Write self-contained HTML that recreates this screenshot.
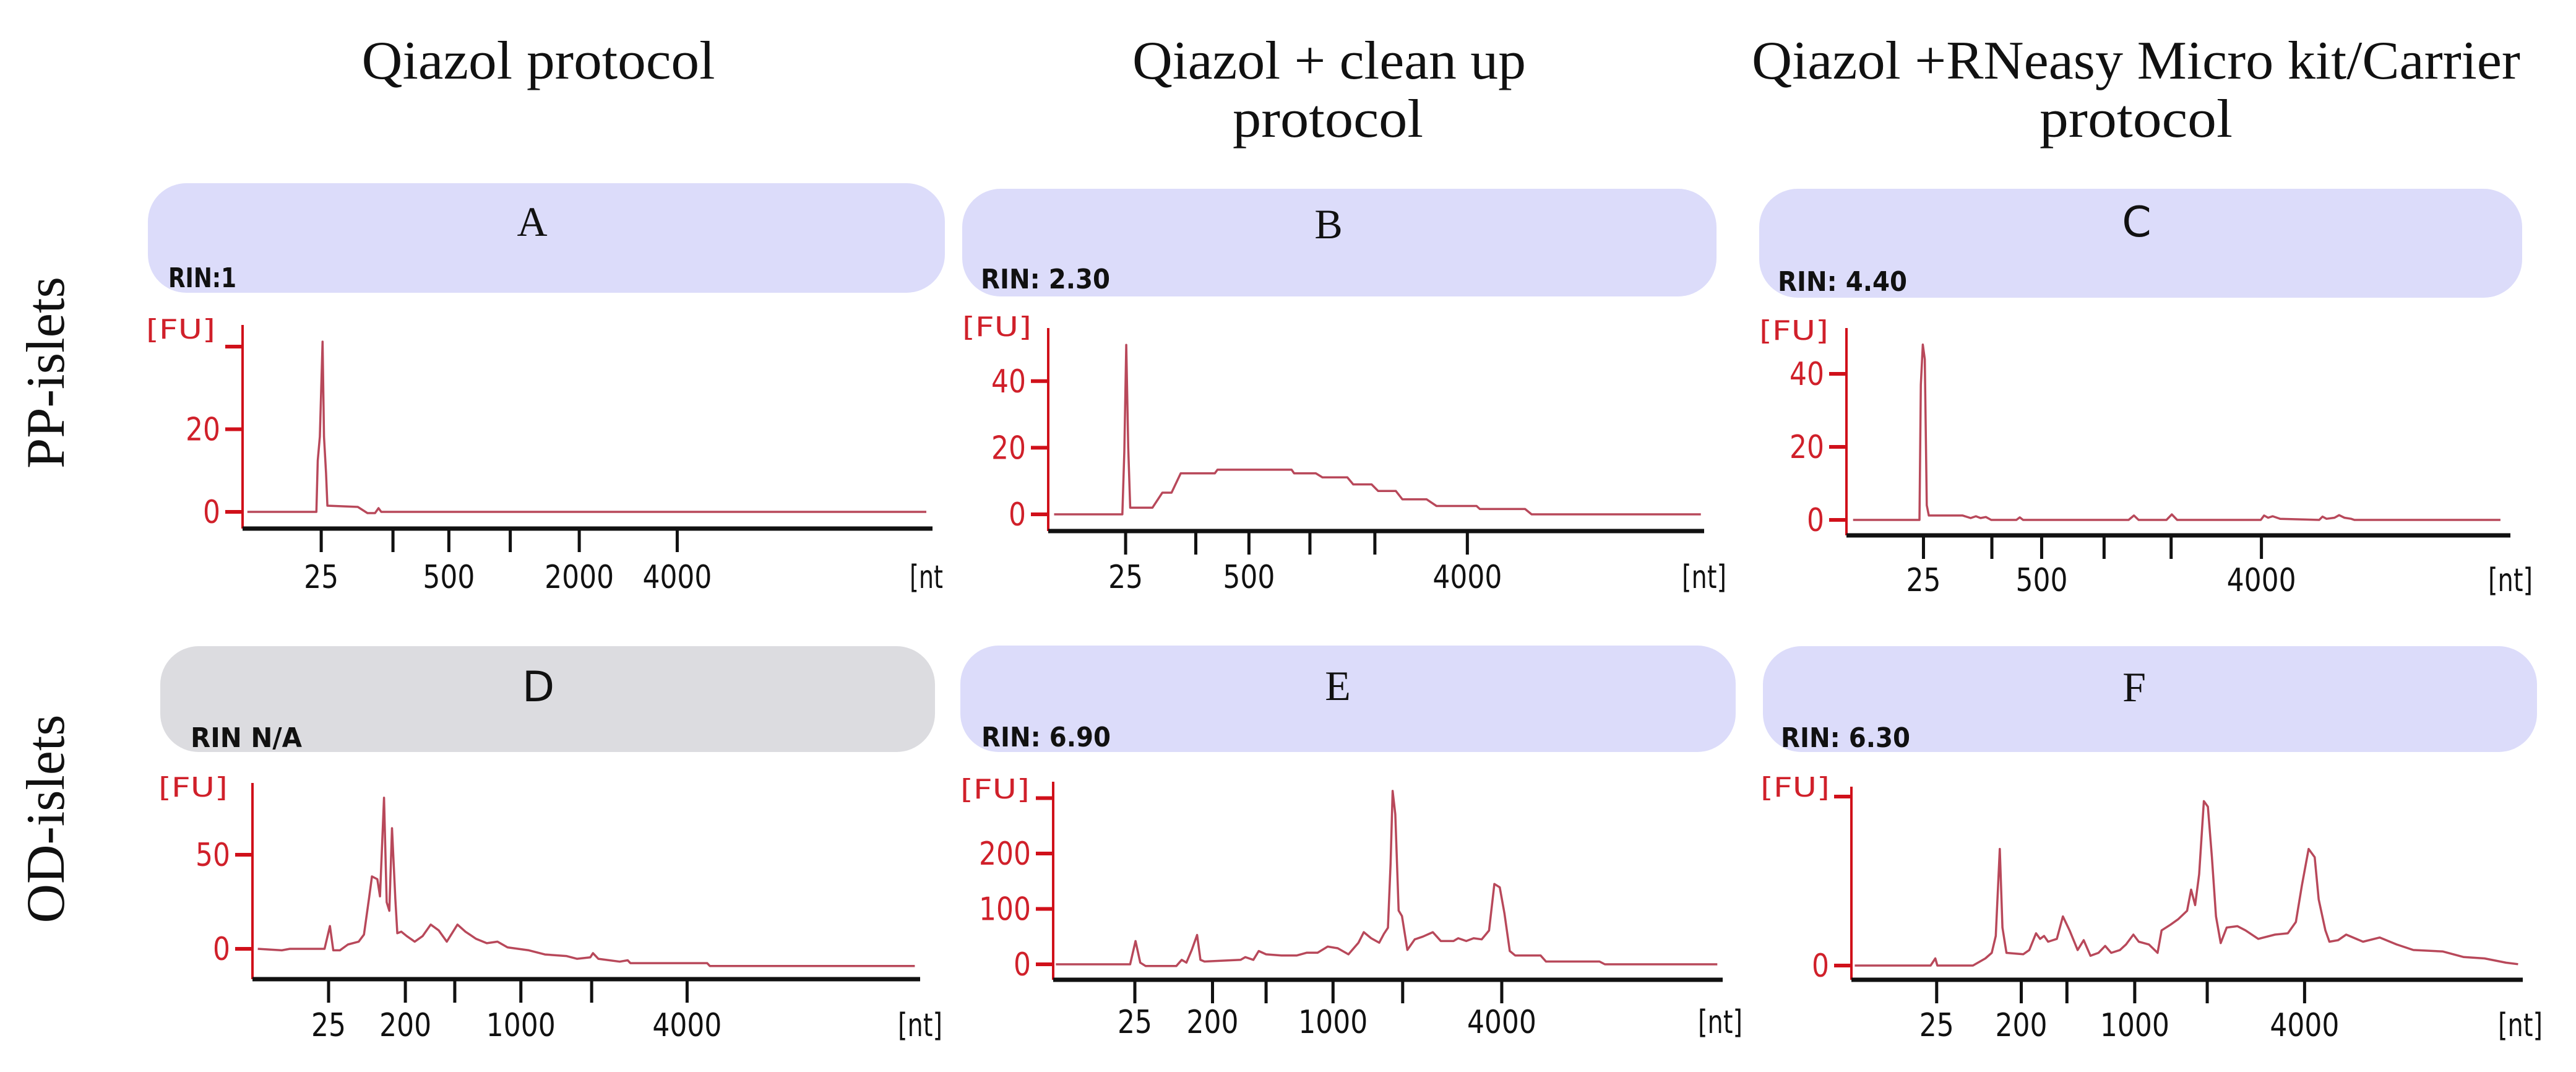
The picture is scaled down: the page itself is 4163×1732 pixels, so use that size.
<!DOCTYPE html>
<html><head><meta charset="utf-8"><style>
html,body{margin:0;padding:0;background:#fff;}
svg{display:block;}
</style></head><body>
<svg id="fig" width="4163" height="1732" viewBox="0 0 4163 1732" xmlns="http://www.w3.org/2000/svg">
<rect x="0" y="0" width="4163" height="1732" fill="#ffffff"/>
<g font-family="'Liberation Serif', serif" fill="#111" font-size="88">
<text x="870" y="127" text-anchor="middle" textLength="571" lengthAdjust="spacingAndGlyphs">Qiazol protocol</text>
<text x="2148" y="127" text-anchor="middle" textLength="636" lengthAdjust="spacingAndGlyphs">Qiazol + clean up</text>
<text x="2146" y="221" text-anchor="middle" textLength="308" lengthAdjust="spacingAndGlyphs">protocol</text>
<text x="3452" y="127" text-anchor="middle" textLength="1242" lengthAdjust="spacingAndGlyphs">Qiazol +RNeasy Micro kit/Carrier</text>
<text x="3452" y="221" text-anchor="middle" textLength="312" lengthAdjust="spacingAndGlyphs">protocol</text>
<text transform="translate(103,602) rotate(-90)" text-anchor="middle" textLength="310" lengthAdjust="spacingAndGlyphs">PP-islets</text>
<text transform="translate(103,1323) rotate(-90)" text-anchor="middle" textLength="337" lengthAdjust="spacingAndGlyphs">OD-islets</text>
</g>
<g id="panels"></g>
</svg>
<script>
// ---- Data (x = migration position 0..100 along axis, y = fluorescence units) ----
const aT  = [0.7,10.7,10.9,11.2,11.6,11.8,12.1,12.3,16.7,18.1,19.2,19.7,20.1,99.1];
const aFU = [0,0,12.4,18.2,41.2,18.2,9.4,1.5,1.2,-0.3,-0.3,0.9,0,0];
const aXTicks = [11.4,21.8,29.9,38.8,48.8,63.0];
const aXLabels = ['25','','500','','2000','4000'];
const aYTicks = [0,20,40];
const aYLabels = ['0','20',''];

const bT  = [0.9,11.3,11.6,11.9,12.2,12.5,15.9,17.4,18.8,20.2,25.4,25.8,37.1,37.5,40.8,41.8,45.6,46.5,49.3,50.3,53.0,54.0,57.7,59.2,65.3,65.8,72.7,73.7,99.5];
const bFU = [0,0,18.9,50.9,20,2,2,6.5,6.5,12.3,12.3,13.4,13.4,12.3,12.3,11.1,11.1,9.0,9.0,7.0,7.0,4.5,4.5,2.5,2.5,1.6,1.6,0,0];
const bXTicks = [11.8,22.5,30.6,39.9,49.8,63.9];
const bXLabels = ['25','','500','','','4000'];
const bYTicks = [0,20,40];
const bYLabels = ['0','20','40'];

const cT  = [1,11,11.2,11.5,11.8,12.1,12.4,17.5,18.7,19.5,20.2,21,21.8,25.6,26.1,26.6,42.5,43.3,44,48.2,49,49.8,62.4,62.9,63.5,64.2,65.3,71.2,71.7,72.3,73.5,74.2,75,76,76.5,98.5];
const cFU = [0,0,37,48,44,4,1.2,1.2,0.5,1,0.5,0.8,0,0,0.7,0,0,1.2,0,0,1.5,0,0,1.2,0.6,1,0.3,0,0.9,0.3,0.6,1.3,0.6,0.3,0,0];
const cXTicks = [11.6,21.9,29.4,38.8,48.9,62.5];
const cXLabels = ['25','','500','','','4000'];
const cYTicks = [0,20,40];
const cYLabels = ['0','20','40'];

const dT  = [0.8,4.4,5.6,10.8,11.6,12.1,13.1,14.3,15.9,16.7,17.5,17.9,18.7,19.1,19.7,20.1,20.5,20.9,21.4,21.7,22.3,23.1,24.3,25.5,26.7,27.9,29.1,30.7,31.9,33.5,35.1,36.7,38.2,39.8,41.4,43.8,47.0,48.6,50.6,51.0,51.8,55.0,56.2,56.6,60.6,68.1,68.5,99.2];
const dFU = [0,-0.8,0,0,12.1,-0.8,-0.8,2.3,3.8,7.6,27.9,38.5,37,27.9,80.3,24.8,20.2,64.1,26.4,8.3,9.1,6.8,3.8,6.8,12.9,9.8,3.8,12.9,9.1,5.3,3.0,3.8,0.8,0,-0.8,-3.0,-3.8,-5.3,-4.5,-2.3,-5.3,-6.8,-6.1,-7.6,-7.6,-7.6,-9.1,-9.1];
const dXTicks = [11.4,22.9,30.3,40.2,50.8,65.1];
const dXLabels = ['25','200','','1000','','4000'];
const dYTicks = [0,50];
const dYLabels = ['0','50'];

const eT  = [0.4,11.5,12.3,13.0,13.8,18.4,19.2,19.9,20.7,21.5,22.0,22.6,28.0,28.7,29.9,30.7,31.8,34.1,36.4,37.9,39.5,41.0,42.5,44.1,45.6,46.4,47.5,48.7,49.4,50.0,50.4,50.7,51.1,51.6,52.1,52.9,54.0,55.2,56.7,57.9,59.8,60.5,61.7,62.8,64.0,65.1,65.9,66.7,67.4,68.2,69.0,72.8,73.6,81.6,82.4,99.2];
const eFU = [0,0,42,3,-3,-3,8,3,26,53,8,5,8,13,8,24,18,16,16,21,21,32,29,18,39,58,47,39,55,66,182,313,271,97,87,26,45,50,58,42,42,47,42,47,45,61,145,139,92,24,16,16,5,5,0,0];
const eXTicks = [12.2,23.8,31.8,41.8,52.2,67.0];
const eXLabels = ['25','200','','1000','','4000'];
const eYTicks = [0,100,200,300];
const eYLabels = ['0','100','200',''];

const fT  = [0.5,11.8,12.5,12.8,18.1,19.95,20.9,21.5,22.1,22.5,23.1,25.6,26.5,27.5,28.1,28.7,29.3,30.6,31.5,32.5,33.7,34.6,35.6,36.8,37.8,38.7,40.0,40.9,42.0,42.8,44.3,45.6,46.2,47.5,48.7,50.0,50.6,51.2,51.8,52.5,53.1,53.7,54.3,55.0,55.9,57.5,58.7,60.6,63.1,65.0,66.2,67.1,68.1,69.0,69.6,70.6,71.2,72.5,73.7,76.2,78.7,81.2,83.7,88.1,91.2,94.3,97.5,99.3];
const fFU = [0,0,4.2,0,0,4.2,7.5,17.5,69,22.5,7.5,6.7,9.2,19.1,15.8,17.5,14.1,15.8,29.1,20.8,9.2,15,5.8,7.5,11.6,7.5,9.2,12.5,18.3,14.1,12.5,7.5,20.8,24.1,27.5,32.4,44.9,35.8,54.1,97.3,94,64.1,29.1,13.3,22.5,23.3,20.8,15.8,18.3,19.1,25.8,47.4,69,64.1,39.1,20.8,14.1,15,18.3,14.1,16.6,12.5,9.2,8.3,5,4.2,1.7,0.8];
const fXTicks = [12.7,25.3,32.1,42.2,53.0,67.5];
const fXLabels = ['25','200','','1000','','4000'];
const fYTicks = [0,100];
const fYLabels = ['0',''];

const NS = 'http://www.w3.org/2000/svg';
const root = document.getElementById('panels');
function mk(tag, attrs, parent){
  const e = document.createElementNS(NS, tag);
  for (const k in attrs) e.setAttribute(k, attrs[k]);
  (parent||root).appendChild(e);
  return e;
}
function txt(parent, x, y, s, size, fill, anchor, family, len){
  const t = mk('text', {x:x, y:y, 'font-size':size, fill:fill, 'text-anchor':anchor||'start', 'font-family':family||"'DejaVu Sans', sans-serif"}, parent);
  if (len) { t.setAttribute('textLength', len); t.setAttribute('lengthAdjust','spacingAndGlyphs'); }
  t.textContent = s;
  return t;
}

function panel(p){
  const g = mk('g', {});
  
  
  const box = mk('rect', {x:p.bx0, y:p.by0, width:p.bx1-p.bx0, height:p.by1-p.by0, rx:62, ry:62, fill:p.boxFill}, g);
  
  
  const letter = txt(g, p.letterX, p.letterY, p.letter, 68, '#111', 'middle', p.letterSerif ? "'Liberation Serif', serif" : "'DejaVu Sans', sans-serif");
  
  
  const rin = txt(g, p.rinX, p.rinY, p.rin, 44, '#111', 'start', "'DejaVu Sans', sans-serif", p.rinLen);
  rin.setAttribute('font-weight', '600');
  
  
  const fu = txt(g, p.fuX, p.fuY, '[FU]', 44, '#d0202a', 'start', "'DejaVu Sans', sans-serif", 112);
  
  

  const xs = t => p.ax0 + t / 100 * (p.ax1 - p.ax0);
  const ys = v => p.y0 - v * p.ppf;

  const yl = mk('line', {x1:p.ax0, y1:p.yTop, x2:p.ax0, y2:p.axY, stroke:'#d0101a', 'stroke-width':4}, g);
  
  
  p.yTicks.forEach((v, i) => {
    const tk = mk('line', {x1:p.ax0-28, y1:ys(v), x2:p.ax0, y2:ys(v), stroke:'#d0101a', 'stroke-width':6}, g);
    
    
    if (p.yLabels[i]) {
      const lb = txt(g, p.ax0-36, ys(v)+18, p.yLabels[i], 52, '#d0202a', 'end', "'DejaVu Sans', sans-serif", p.yLabels[i].length*28);
      
      
    }
  });
  const xl = mk('line', {x1:p.ax0, y1:p.axY, x2:p.ax1, y2:p.axY, stroke:'#111', 'stroke-width':7}, g);
  
  
  p.xTicks.forEach((t, i) => {
    const tk = mk('line', {x1:xs(t), y1:p.axY, x2:xs(t), y2:p.axY+38, stroke:'#111', 'stroke-width':5}, g);
    
    
    if (p.xLabels[i]) {
      const lb = txt(g, xs(t), p.labY, p.xLabels[i], 52, '#111', 'middle', "'DejaVu Sans', sans-serif", p.xLabels[i].length*28);
      
      
    }
  });
  const nt = txt(g, p.ntX, p.labY, p.ntText, 52, '#111', 'middle', "'DejaVu Sans', sans-serif", p.ntText.length*18);
  
  

  let d = '';
  p.t.forEach((t, i) => { d += (i ? 'L' : 'M') + xs(t).toFixed(1) + ',' + ys(p.fu[i]).toFixed(1); });
  const tr = mk('path', {d:d, fill:'none', stroke:'#b8485a', 'stroke-width':3.5, 'stroke-linejoin':'round'}, g);
  
  
}

const LAV = '#dcdcfa', GRAY = '#dcdce0';
panel({id:'a', letter:'A', letterSerif:true, bx0:239, bx1:1527, by0:296, by1:473, boxFill:LAV, letterX:860, letterY:381,
  rin:'RIN:1', rinX:272, rinY:464, rinLen:110, fuX:236, fuY:547,
  ax0:392, ax1:1507, axY:854, yTop:525, y0:827, ppf:6.675, labY:950, ntX:1497, ntText:'[nt',
  xTicks:aXTicks, xLabels:aXLabels, yTicks:aYTicks, yLabels:aYLabels, t:aT, fu:aFU});
panel({id:'b', letter:'B', letterSerif:true, bx0:1555, bx1:2774, by0:305, by1:479, boxFill:LAV, letterX:2147, letterY:385,
  rin:'RIN: 2.30', rinX:1585, rinY:466, rinLen:209, fuX:1555, fuY:543,
  ax0:1694, ax1:2754, axY:858, yTop:530, y0:831, ppf:5.38, labY:950, ntX:2754, ntText:'[nt]',
  xTicks:bXTicks, xLabels:bXLabels, yTicks:bYTicks, yLabels:bYLabels, t:bT, fu:bFU});
panel({id:'c', letter:'C', letterSerif:false, bx0:2843, bx1:4076, by0:305, by1:481, boxFill:LAV, letterX:3453, letterY:382,
  rin:'RIN: 4.40', rinX:2873, rinY:470, rinLen:209, fuX:2843, fuY:549,
  ax0:2984, ax1:4057, axY:865, yTop:530, y0:840, ppf:5.9, labY:955, ntX:4057, ntText:'[nt]',
  xTicks:cXTicks, xLabels:cXLabels, yTicks:cYTicks, yLabels:cYLabels, t:cT, fu:cFU});
panel({id:'d', letter:'D', letterSerif:false, bx0:259, bx1:1511, by0:1044, by1:1215, boxFill:GRAY, letterX:870, letterY:1133,
  rin:'RIN N/A', rinX:308, rinY:1207, rinLen:180, fuX:256, fuY:1287,
  ax0:408, ax1:1487, axY:1582, yTop:1265, y0:1533, ppf:3.04, labY:1674, ntX:1487, ntText:'[nt]',
  xTicks:dXTicks, xLabels:dXLabels, yTicks:dYTicks, yLabels:dYLabels, t:dT, fu:dFU});
panel({id:'e', letter:'E', letterSerif:true, bx0:1552, bx1:2805, by0:1043, by1:1215, boxFill:LAV, letterX:2162, letterY:1131,
  rin:'RIN: 6.90', rinX:1586, rinY:1206, rinLen:209, fuX:1552, fuY:1290,
  ax0:1702, ax1:2784, axY:1583, yTop:1263, y0:1558, ppf:0.895, labY:1669, ntX:2780, ntText:'[nt]',
  xTicks:eXTicks, xLabels:eXLabels, yTicks:eYTicks, yLabels:eYLabels, t:eT, fu:eFU});
panel({id:'f', letter:'F', letterSerif:true, bx0:2849, bx1:4100, by0:1044, by1:1215, boxFill:LAV, letterX:3449, letterY:1133,
  rin:'RIN: 6.30', rinX:2878, rinY:1207, rinLen:209, fuX:2845, fuY:1287,
  ax0:2992, ax1:4077, axY:1583, yTop:1271, y0:1560, ppf:2.73, labY:1674, ntX:4073, ntText:'[nt]',
  xTicks:fXTicks, xLabels:fXLabels, yTicks:fYTicks, yLabels:fYLabels, t:fT, fu:fFU});
</script>
</body></html>
